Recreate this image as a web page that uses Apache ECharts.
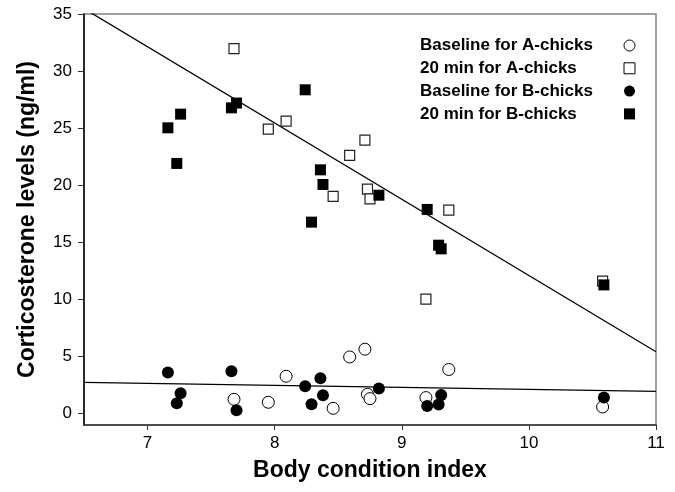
<!DOCTYPE html>
<html>
<head>
<meta charset="utf-8">
<script src="https://cdn.jsdelivr.net/npm/echarts@6/dist/echarts.min.js"></script>
<style>html,body{margin:0;padding:0;background:#fff;}#c{width:675px;height:492px;}</style>
</head>
<body>
<div id="c"></div>
<script>
// Body condition index for A-chicks and B-chicks
const aX = [7.68, 7.95, 8.09, 8.46, 8.59, 8.71, 8.73, 8.75, 9.19, 9.37, 10.58];
const aBaseline = [1.25, 0.99, 3.27, 0.46, 4.96, 5.64, 1.69, 1.31, 1.40, 3.86, 0.58];
const a20min = [31.96, 24.92, 25.62, 19.02, 22.61, 23.95, 19.66, 18.81, 10.02, 17.82, 11.60];
const bX = [7.16, 7.26, 7.23, 7.66, 7.70, 8.24, 8.29, 8.36, 8.38, 8.82, 9.20, 9.29, 9.31, 10.59];
const bBaseline = [3.59, 1.78, 0.90, 3.71, 0.29, 2.39, 0.82, 3.09, 1.60, 2.20, 0.67, 0.79, 1.63, 1.40];
const b20min = [25.03, 26.23, 21.91, 26.78, 27.20, 28.36, 16.77, 21.35, 20.07, 19.13, 17.88, 14.75, 14.43, 11.27];
// Regression lines (endpoints)
const fitX = [6.5, 11];
const fitStress = [35.47, 5.42];
const fitBaseline = [2.73, 1.95];
const xTicks = [7, 8, 9, 10, 11];
const yTicks = [0, 5, 10, 15, 20, 25, 30, 35];
const seriesNames = ['Baseline for A-chicks', '20 min for A-chicks', 'Baseline for B-chicks', '20 min for B-chicks'];

const zip = (xs, ys) => xs.map((x, i) => [x, ys[i]]);
const FONT = '"Liberation Sans", Arial, sans-serif';

const chart = echarts.init(document.getElementById('c'), null, {renderer: 'canvas'});
chart.setOption({
  animation: false,
  backgroundColor: '#fff',
  grid: {left: 84, right: 19, top: 14, bottom: 67, show: true, borderColor: '#808080', borderWidth: 1.5},
  xAxis: {
    type: 'value', min: 6.5, max: 11,
    name: 'Body condition index', nameLocation: 'middle', nameGap: 34,
    nameTextStyle: {fontFamily: FONT, fontWeight: 'bold', fontSize: 23, color: '#000'},
    axisLine: {show: true, onZero: false, lineStyle: {color: '#333', width: 1.5}},
    axisTick: {show: true, length: 5, customValues: xTicks, lineStyle: {color: '#333'}},
    axisLabel: {customValues: xTicks, margin: 10, fontFamily: FONT, fontSize: 17, color: '#000'},
    splitLine: {show: false}
  },
  yAxis: {
    type: 'value', min: -1, max: 35,
    name: 'Corticosterone levels (ng/ml)', nameLocation: 'middle', nameGap: 45,
    nameTextStyle: {fontFamily: FONT, fontWeight: 'bold', fontSize: 23, color: '#000'},
    axisLine: {show: true, onZero: false, lineStyle: {color: '#000', width: 1.5}},
    axisTick: {show: true, length: 6, customValues: yTicks, lineStyle: {color: '#333'}},
    axisLabel: {customValues: yTicks, margin: 12, fontFamily: FONT, fontSize: 17, color: '#000'},
    splitLine: {show: false}
  },
  legend: {
    orient: 'vertical', left: 420, top: 37, align: 'right',
    itemWidth: 11, itemHeight: 11, itemGap: 5.8, padding: 0,
    formatter: n => '{t|' + n + '}',
    textStyle: {rich: {t: {width: 199, align: 'left', fontFamily: FONT, fontWeight: 'bold', fontSize: 17, color: '#000', lineHeight: 11}}},
    data: [
      {name: seriesNames[0], icon: 'circle', itemStyle: {color: '#fff', borderColor: '#000', borderWidth: 1}},
      {name: seriesNames[1], icon: 'rect', itemStyle: {color: '#fff', borderColor: '#000', borderWidth: 1}},
      {name: seriesNames[2], icon: 'circle', itemStyle: {color: '#000', borderColor: '#000', borderWidth: 0}},
      {name: seriesNames[3], icon: 'rect', itemStyle: {color: '#000', borderColor: '#000', borderWidth: 0}}
    ]
  },
  series: [
    {type: 'line', data: zip(fitX, fitStress), symbol: 'none', silent: true, clip: true,
     lineStyle: {color: '#000', width: 1.3}, z: 1},
    {type: 'line', data: zip(fitX, fitBaseline), symbol: 'none', silent: true, clip: true,
     lineStyle: {color: '#000', width: 1.3}, z: 1},
    {name: seriesNames[0], type: 'scatter', data: zip(aX, aBaseline), symbol: 'circle', symbolSize: 12,
     itemStyle: {color: '#fff', borderColor: '#000', borderWidth: 1, opacity: 1}, z: 3},
    {name: seriesNames[1], type: 'scatter', data: zip(aX, a20min), symbol: 'rect', symbolSize: 10,
     itemStyle: {color: '#fff', borderColor: '#222', borderWidth: 1.2, opacity: 1}, z: 3},
    {name: seriesNames[2], type: 'scatter', data: zip(bX, bBaseline), symbol: 'circle', symbolSize: 12,
     itemStyle: {color: '#000', opacity: 1}, z: 4},
    {name: seriesNames[3], type: 'scatter', data: zip(bX, b20min), symbol: 'rect', symbolSize: 11,
     itemStyle: {color: '#000', opacity: 1}, z: 4}
  ]
});
</script>
</body>
</html>
